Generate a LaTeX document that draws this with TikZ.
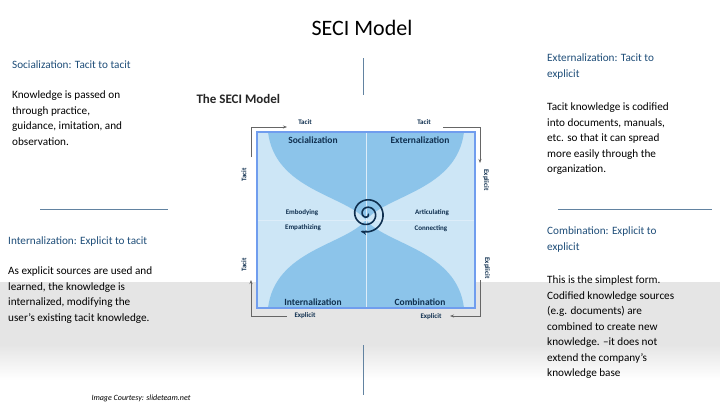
\documentclass[tikz,border=0pt]{standalone}
\usepackage{fontspec}
\setmainfont{Carlito}
\usetikzlibrary{arrows.meta}
\definecolor{hd}{HTML}{1F4E79}
\definecolor{dk}{HTML}{0F2F4F}
\definecolor{bl}{HTML}{8CC4EA}
\definecolor{bll}{HTML}{CDE6F6}
\begin{document}
\begin{tikzpicture}[x=1pt,y=-1pt,
  body/.style={anchor=north west,align=left,font=\fontsize{11.2}{15.5}\selectfont,text=black,inner sep=0},
  head/.style={anchor=north west,align=left,font=\fontsize{11.2}{15.5}\selectfont,text=hd,inner sep=0},
  sep/.style={draw=hd!70,line width=0.6pt},
  q/.style={font=\bfseries\fontsize{9.5}{10}\selectfont,text=dk,inner sep=0},
  s/.style={font=\bfseries\fontsize{7}{7}\selectfont,text=dk,inner sep=0},
  ax/.style={draw=gray!80!black,line width=0.9pt,-{Stealth[length=4pt]}}]
\fill[white] (0,0) rectangle (720,410);
\fill[gray!20] (0,282) rectangle (720,345);
\shade[top color=gray!20,bottom color=white] (0,345) rectangle (720,380);
\node[font=\fontsize{22}{24}\selectfont] (title) at (362,28) {SECI Model};
\node[font=\bfseries\fontsize{13}{14}\selectfont,anchor=west,text=black!85] (sm) at (193,99) {The SECI Model};
% separators
\coordinate (v1a) at (363,58); \coordinate (v1b) at (363,95);
\draw[sep] (v1a) -- (v1b);
\coordinate (v2a) at (363,345); \coordinate (v2b) at (363,395);
\draw[sep] (v2a) -- (v2b);
\coordinate (h1a) at (40,209); \coordinate (h1b) at (168,209);
\draw[sep] (h1a) -- (h1b);
\coordinate (h2a) at (558,209); \coordinate (h2b) at (712,209);
\draw[sep] (h2a) -- (h2b);
% side texts
\node[head] (t1) at (12,61) {Socialization: Tacit to tacit};
\node[body] (b1) at (12,91) {Knowledge is passed on\\through practice,\\guidance, imitation, and\\observation.};
\node[head] (t2) at (547,54) {Externalization: Tacit to\\explicit};
\node[body] (b2) at (547,103) {Tacit knowledge is codified\\into documents, manuals,\\etc. so that it can spread\\more easily through the\\organization.};
\node[head] (t3) at (8,237) {Internalization: Explicit to tacit};
\node[body] (b3) at (8,267) {As explicit sources are used and\\learned, the knowledge is\\internalized, modifying the\\user's existing tacit knowledge.};
\node[head] (t4) at (547,227) {Combination: Explicit to\\explicit};
\node[body] (b4) at (547,276) {This is the simplest form.\\Codified knowledge sources\\(e.g. documents) are\\combined to create new\\knowledge. --it does not\\extend the company's\\knowledge base};
\node[font=\itshape\fontsize{8}{9}\selectfont,anchor=west] (cr) at (88,398) {Image Courtesy: slideteam.net};
% box
\fill[bll] (257,132) rectangle (475,308);
\fill[bl] (268,132) .. controls (275,190) and (345,195) .. (366,220) .. controls (387,195) and (457,190) .. (464,132) -- cycle;
\fill[bl] (268,308) .. controls (275,250) and (345,245) .. (366,220) .. controls (387,245) and (457,250) .. (464,308) -- cycle;
\draw[white!70!bl,line width=0.8pt] (366,132) -- (366,308) (257,220) -- (475,220);
\draw[bl!80!blue,line width=1.2pt] (257,132) rectangle (475,308);
% quadrant labels
\node[q] (so) at (313,140) {Socialization};
\node[q] (ex) at (420,140) {Externalization};
\node[q] (in) at (313,302) {Internalization};
\node[q] (co) at (420,302) {Combination};
\node[s] (em) at (302,213) {Embodying};
\node[s] (ep) at (303,228) {Empathizing};
\node[s] (ar) at (432,213) {Articulating};
\node[s] (cn) at (431,229) {Connecting};
% spiral
\draw[dk,line width=1.6pt,-{Stealth[length=6pt]}] plot[domain=0:830,samples=200,smooth] ({367+(1+\x/48)*cos(\x)},{214+(1+\x/48)*sin(\x)});
% axes
\coordinate (a1) at (251,157); \coordinate (a1c) at (251,127); \coordinate (a1e) at (287,127);
\draw[ax] (a1) -- (a1c) -- (a1e);
\coordinate (a2) at (443,127); \coordinate (a2c) at (480,127); \coordinate (a2e) at (480,163);
\draw[ax] (a2) -- (a2c) -- (a2e);
\coordinate (a3) at (480,280); \coordinate (a3c) at (480,316); \coordinate (a3e) at (450,316);
\draw[ax] (a3) -- (a3c) -- (a3e);
\coordinate (a4) at (287,316); \coordinate (a4c) at (251,316); \coordinate (a4e) at (251,280);
\draw[ax] (a4) -- (a4c) -- (a4e);
\node[s] (l1) at (305,122) {Tacit};
\node[s] (l2) at (424,122) {Tacit};
\node[s,rotate=90] (l3) at (244,175) {Tacit};
\node[s,rotate=90] (l4) at (244,265) {Tacit};
\node[s,rotate=-90] (l5) at (486,180) {Explicit};
\node[s,rotate=-90] (l6) at (487,268) {Explicit};
\node[s] (l7) at (305,316) {Explicit};
\node[s] (l8) at (431,317) {Explicit};
\end{tikzpicture}
\end{document}
